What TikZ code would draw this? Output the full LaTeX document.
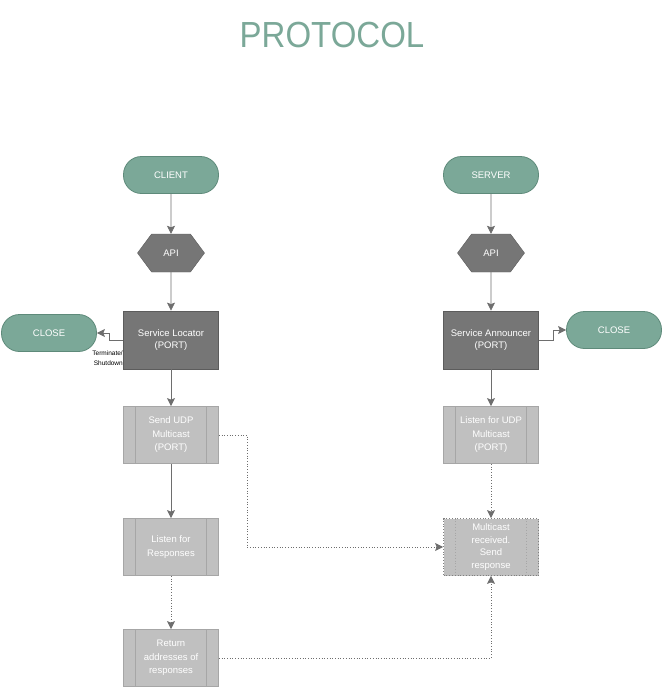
\documentclass[tikz,border=0pt]{standalone}
\usepackage{fontspec}
\setmainfont{Liberation Sans}
\usepackage{tikz}
\usetikzlibrary{arrows.meta,shapes.symbols,positioning}
\definecolor{tealx}{HTML}{7BA898}
\definecolor{tealdk}{HTML}{5E8A7A}
\definecolor{darkgr}{HTML}{767676}
\definecolor{darkbd}{HTML}{5C5C5C}
\definecolor{lightgr}{HTML}{C0C0C0}
\definecolor{lightbd}{HTML}{A6A6A6}
\definecolor{linegr}{HTML}{6E6E6E}
\tikzset{
  ar/.style={-{Stealth[length=8pt,width=8pt,inset=1.5pt]},linegr,line width=0.7pt},
  dar/.style={ar,dotted},
  term/.style={draw=tealdk,thick,fill=tealx,rounded corners=18pt,minimum width=95pt,minimum height=37pt,
    text=white,font=\fontsize{9.5}{13}\selectfont},
  hexa/.style={signal,signal to=west and east,signal pointer angle=107,draw=darkbd,fill=darkgr,
    minimum width=67pt,minimum height=38pt,inner sep=0pt,text=white,font=\fontsize{9.5}{13}\selectfont},
  svc/.style={draw=darkbd,thick,fill=darkgr,minimum width=95pt,minimum height=58pt,align=center,
    text=white,font=\fontsize{9.5}{12.5}\selectfont},
  proc/.style={draw=lightbd,thick,fill=lightgr,minimum width=95pt,minimum height=57pt,align=center,
    text=white,font=\fontsize{9.5}{13.5}\selectfont,
    path picture={
      \draw[lightbd,thick] ([xshift=12pt]path picture bounding box.north west) -- ([xshift=12pt]path picture bounding box.south west);
      \draw[lightbd,thick] ([xshift=-12pt]path picture bounding box.north east) -- ([xshift=-12pt]path picture bounding box.south east);}},
  dproc/.style={draw=gray,thick,dotted,fill=lightgr,minimum width=95pt,minimum height=57pt,align=center,
    text=white,font=\fontsize{9.5}{12.5}\selectfont,
    path picture={
      \draw[lightbd,thick,dotted] ([xshift=12pt]path picture bounding box.north west) -- ([xshift=12pt]path picture bounding box.south west);
      \draw[lightbd,thick,dotted] ([xshift=-12pt]path picture bounding box.north east) -- ([xshift=-12pt]path picture bounding box.south east);}}
}
\begin{document}
\begin{tikzpicture}[x=1pt,y=-1pt]
\useasboundingbox (0,0) rectangle (664,689);
\node[text=tealx,font=\fontsize{33}{36}\selectfont,yscale=1.1] (title) at (332,35) {PROTOCOL};
% client side
\node[term] (client) at (171,175) {CLIENT};
\node[hexa] (apiL) at (171,253) {API};
\node[svc] (loc) at (171,340) {Service Locator\\(PORT)};
\node[term] (closeL) at (49,333) {CLOSE};
\node[proc] (udp) at (171,435) {Send UDP\\Multicast\\(PORT)};
\node[proc] (resp) at (171,547) {Listen for\\Responses};
\node[proc] (ret) at (171,658) {Return\\addresses of\\responses};
\node[font=\fontsize{6.5}{10}\selectfont,align=right,anchor=east,inner sep=0pt] (termlbl) at (123,358) {Terminate/\\Shutdown};
% server side
\node[term] (server) at (491,175) {SERVER};
\node[hexa] (apiR) at (491,253) {API};
\node[svc] (ann) at (491,340) {Service Announcer\\(PORT)};
\node[term] (closeR) at (614,330) {CLOSE};
\node[proc] (listen) at (491,435) {Listen for UDP\\Multicast\\(PORT)};
\node[dproc] (recv) at (491,547) {Multicast\\received.\\Send\\response};
% connectors
\draw[ar] (client) -- (apiL);
\draw[ar] (apiL) -- (loc);
\draw[ar] (loc) -- (udp);
\draw[ar] (udp) -- (resp);
\draw[ar] (loc.west) -- ++(-14,0) |- (closeL.east);
\draw[ar] (server) -- (apiR);
\draw[ar] (apiR) -- (ann);
\draw[ar] (ann) -- (listen);
\draw[ar] (ann.east) -- ++(14,0) |- (closeR.west);
\draw[dar] (listen) -- (recv);
\draw[dar] (resp) -- (ret);
\draw[dar] (udp.east) -- ++(28,0) |- (recv.west);
\draw[dar] (ret.east) -| (recv.south);
\end{tikzpicture}
\end{document}
